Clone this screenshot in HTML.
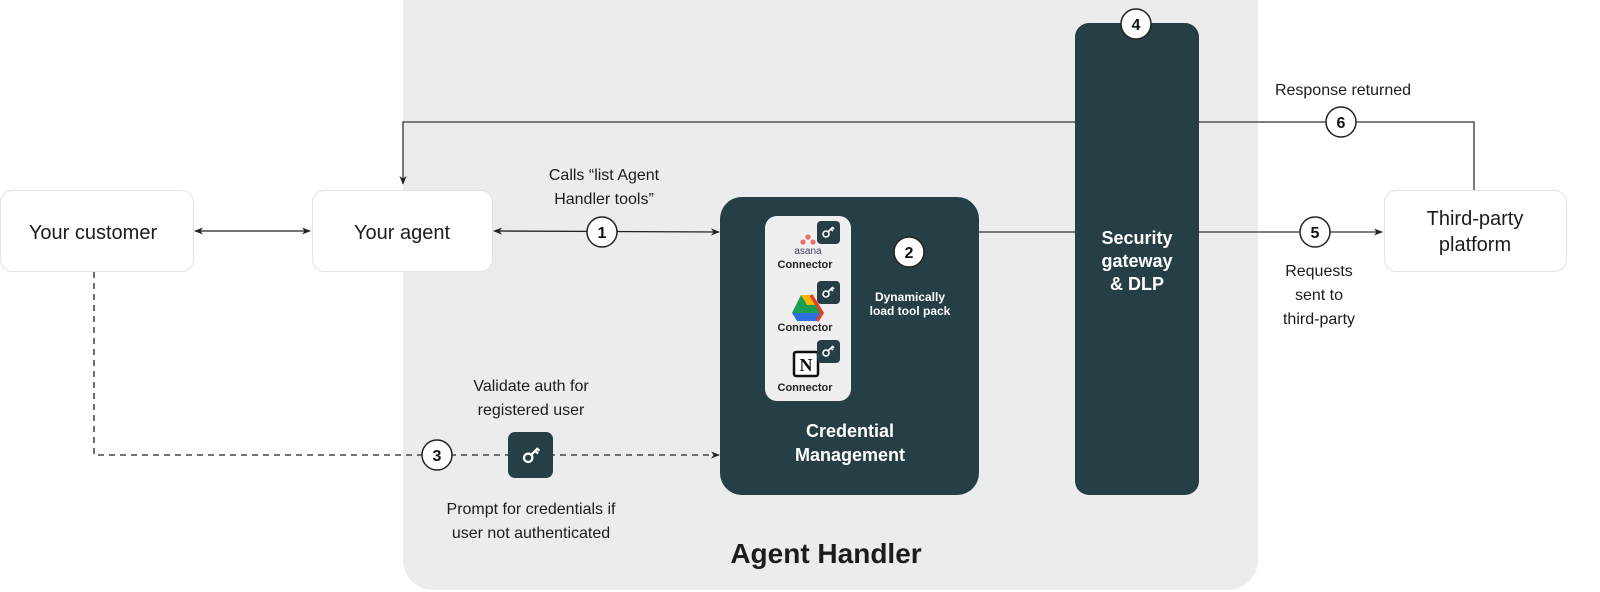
<!DOCTYPE html>
<html><head><meta charset="utf-8"><style>
body{margin:0;background:#fff}
svg{display:block}
text{font-family:"Liberation Sans",sans-serif}
</style></head><body>
<svg width="1600" height="592" viewBox="0 0 1600 592" xmlns="http://www.w3.org/2000/svg">
<defs>
<marker id="a" viewBox="0 0 10 10" refX="9" refY="5" markerWidth="9" markerHeight="9" orient="auto-start-reverse" markerUnits="userSpaceOnUse"><path d="M0,1 L10,5 L0,9 L3,5z" fill="#222"/></marker>
<g id="key"><circle cx="-2" cy="2" r="3" fill="none" stroke="#fff" stroke-width="1.6"/><path d="M0,0 L5,-5 M3,-3 L5,-1 M4.5,-4.5 L6,-3" stroke="#fff" stroke-width="1.6" fill="none"/></g>
</defs>
<rect x="403" y="-30" width="855" height="620" rx="30" fill="#ebecee"/>
<line x1="195" y1="231" x2="310" y2="231" stroke="#222" stroke-width="1.3" marker-start="url(#a)" marker-end="url(#a)"/>
<line x1="494" y1="231" x2="719" y2="232" stroke="#222" stroke-width="1.3" marker-start="url(#a)" marker-end="url(#a)"/>
<line x1="979" y1="232" x2="1075" y2="232" stroke="#333" stroke-width="1.3"/>
<line x1="1199" y1="232" x2="1382" y2="232" stroke="#333" stroke-width="1.3" marker-end="url(#a)"/>
<polyline points="1474,190 1474,122 403,122 403,184" fill="none" stroke="#333" stroke-width="1.3" marker-end="url(#a)"/>
<polyline points="94,272 94,455 719,455" fill="none" stroke="#222" stroke-width="1.3" stroke-dasharray="6,5" marker-end="url(#a)"/>
<rect x="0.5" y="190.5" width="193" height="81" rx="12" fill="#fff" stroke="#e2e2e2"/>
<text x="93" y="239" font-size="20" text-anchor="middle" fill="#1c1c1c">Your customer</text>
<rect x="312.5" y="190.5" width="180" height="81" rx="12" fill="#fff" stroke="#e2e2e2"/>
<text x="402" y="239" font-size="20" text-anchor="middle" fill="#1c1c1c">Your agent</text>
<rect x="1384.5" y="190.5" width="182" height="81" rx="12" fill="#fff" stroke="#e2e2e2"/>
<text x="1475" y="225" font-size="20" text-anchor="middle" fill="#1c1c1c">Third-party</text>
<text x="1475" y="251" font-size="20" text-anchor="middle" fill="#1c1c1c">platform</text>
<rect x="720" y="197" width="259" height="298" rx="22" fill="#263f47"/>
<rect x="1075" y="23" width="124" height="472" rx="14" fill="#263f47"/>
<text x="1137" y="244" font-size="18" font-weight="bold" text-anchor="middle" fill="#fff">Security</text>
<text x="1137" y="267" font-size="18" font-weight="bold" text-anchor="middle" fill="#fff">gateway</text>
<text x="1137" y="290" font-size="18" font-weight="bold" text-anchor="middle" fill="#fff">&amp; DLP</text>
<text x="850" y="437" font-size="18" font-weight="bold" text-anchor="middle" fill="#fff">Credential</text>
<text x="850" y="461" font-size="18" font-weight="bold" text-anchor="middle" fill="#fff">Management</text>
<text x="910" y="301" font-size="12" font-weight="bold" text-anchor="middle" fill="#fff">Dynamically</text>
<text x="910" y="315" font-size="12" font-weight="bold" text-anchor="middle" fill="#fff">load tool pack</text>
<rect x="765" y="216" width="86" height="185" rx="12" fill="#efefef"/>
<circle cx="808" cy="237" r="2.6" fill="#f06a6a"/><circle cx="803" cy="242" r="2.6" fill="#f06a6a"/><circle cx="813" cy="242" r="2.6" fill="#f06a6a"/>
<text x="808" y="254" font-size="10" text-anchor="middle" fill="#3a3f5c">asana</text>
<text x="805" y="268" font-size="11" font-weight="bold" text-anchor="middle" fill="#222">Connector</text>
<g transform="translate(0,2)">
<path d="M801,293 L811,293 L822,311 L792,311z" fill="#1a9e52"/><path d="M801,293 L811,293 L817,303 L807,303z" fill="#f7b500"/><path d="M792,311 L822,311 L817,319 L797,319z" fill="#2d6fe0"/><path d="M817,319 L822,311 L811,293" fill="none" stroke="#e0412b" stroke-width="3.5"/>
</g>
<text x="805" y="331" font-size="11" font-weight="bold" text-anchor="middle" fill="#222">Connector</text>
<rect x="794" y="352" width="24" height="24" rx="2" fill="#fff" stroke="#111" stroke-width="2.5"/>
<text x="806" y="371" font-size="18" font-weight="bold" text-anchor="middle" fill="#111" style="font-family:'Liberation Serif',serif">N</text>
<text x="805" y="391" font-size="11" font-weight="bold" text-anchor="middle" fill="#222">Connector</text>
<rect x="817" y="221" width="23" height="23" rx="4" fill="#263f47"/><use href="#key" x="828" y="232"/>
<rect x="817" y="281" width="23" height="23" rx="4" fill="#263f47"/><use href="#key" x="828" y="292"/>
<rect x="817" y="340" width="23" height="23" rx="4" fill="#263f47"/><use href="#key" x="828" y="351"/>
<rect x="508" y="432" width="45" height="46" rx="7" fill="#263f47"/>
<g transform="translate(531,455) scale(1.4)"><use href="#key"/></g>
<g font-size="16" font-weight="bold" text-anchor="middle" fill="#111">
<circle cx="602" cy="232" r="15" fill="#fff" stroke="#222" stroke-width="1.5"/><text x="602" y="238">1</text>
<circle cx="909" cy="252" r="15" fill="#fff" stroke="#222" stroke-width="1.5"/><text x="909" y="258">2</text>
<circle cx="437" cy="455" r="15" fill="#fff" stroke="#222" stroke-width="1.5"/><text x="437" y="461">3</text>
<circle cx="1136" cy="24" r="15" fill="#fff" stroke="#222" stroke-width="1.5"/><text x="1136" y="30">4</text>
<circle cx="1315" cy="232" r="15" fill="#fff" stroke="#222" stroke-width="1.5"/><text x="1315" y="238">5</text>
<circle cx="1341" cy="122" r="15" fill="#fff" stroke="#222" stroke-width="1.5"/><text x="1341" y="128">6</text>
</g>
<g font-size="16" text-anchor="middle" fill="#1c1c1c">
<text x="604" y="180">Calls “list Agent</text>
<text x="604" y="204">Handler tools”</text>
<text x="1343" y="95">Response returned</text>
<text x="1319" y="276">Requests</text>
<text x="1319" y="300">sent to</text>
<text x="1319" y="324">third-party</text>
<text x="531" y="391">Validate auth for</text>
<text x="531" y="415">registered user</text>
<text x="531" y="514">Prompt for credentials if</text>
<text x="531" y="538">user not authenticated</text>
</g>
<text x="826" y="563" font-size="28" font-weight="bold" text-anchor="middle" fill="#1c1c1c">Agent Handler</text>
</svg>
</body></html>
